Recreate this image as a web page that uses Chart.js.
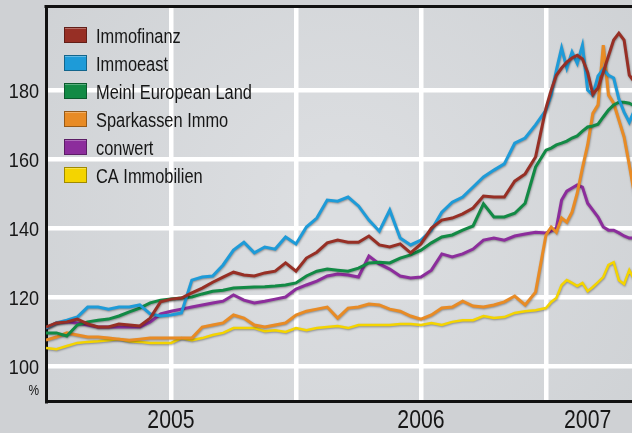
<!DOCTYPE html>
<html>
<head>
<meta charset="utf-8">
<script src="https://cdn.jsdelivr.net/npm/chart.js@4.4.1/dist/chart.umd.min.js"></script>
<style>
  body { margin: 0; background: #cfd1d4; }
  #wrap { width: 632px; height: 433px; position: relative; }
</style>
</head>
<body>
<div id="wrap"><canvas id="immoChart"></canvas></div>
<script>
// months since Jan 2005
const months = [0, 0.5, 1, 1.5, 2, 2.5, 3, 3.5, 4, 4.5, 5, 5.5, 6, 6.5, 7, 7.5, 8, 8.5, 9, 9.5,
    10, 10.5, 11, 11.5, 12, 12.5, 13, 13.5, 14, 14.5, 15, 15.5, 16, 16.5, 17, 17.5, 18, 18.5, 19, 19.5,
    20, 20.5, 21, 21.5, 22, 22.5, 23, 23.5, 24,
    24.25, 24.5, 24.75, 25, 25.25, 25.5, 25.75, 26, 26.25, 26.5, 26.75, 27, 27.25, 27.5, 27.75, 28, 28.25];

const immofinanz = [111.3, 112.5, 112.8, 113.6, 112.2, 111.3, 111.3, 112.2, 111.9, 111.6, 113.9, 118.6, 119.4, 119.7, 121.2, 122.6, 124.3, 125.8, 127.2, 126.4,
    126.1, 127.0, 127.5, 129.9, 127.5, 131.3, 133.0, 135.7, 136.5, 135.9, 135.9, 137.7, 135.1, 134.5, 135.4, 132.8, 135.4, 140.0, 142.3, 142.9,
    144.1, 145.8, 149.3, 149.0, 149.0, 153.6, 155.7, 160.6, 174.8,
    180.0, 184.3, 186.4, 188.1, 189.3, 190.1, 189.0, 185.2, 178.8, 180.6, 185.2, 189.9, 194.5, 196.5, 194.5, 184.3, 182.3];

const immoeast = [111.0, 112.5, 113.3, 114.2, 117.1, 117.1, 116.5, 117.1, 117.1, 117.7, 115.1, 114.5, 114.8, 115.4, 124.9, 125.8, 126.1, 129.3, 133.6, 135.9,
    132.8, 134.5, 133.9, 137.4, 135.4, 140.3, 142.9, 148.1, 147.8, 149.0, 146.4, 142.3, 139.1, 145.2, 137.1, 135.1, 136.5, 139.4, 144.6, 147.5,
    149.0, 151.9, 154.8, 156.8, 158.6, 164.6, 166.1, 169.9, 174.2,
    178.6, 185.8, 192.2, 186.4, 191.0, 187.8, 193.0, 180.0, 178.6, 184.1, 186.1, 184.3, 183.5, 177.4, 173.6, 170.7, 174.2];

const meinl = [109.6, 109.6, 108.7, 111.9, 112.8, 113.3, 113.6, 114.5, 115.7, 116.8, 118.3, 119.1, 119.4, 119.7, 120.0, 120.9, 121.7, 122.0, 122.6, 122.8,
    122.9, 123.0, 123.2, 123.5, 124.1, 126.1, 127.5, 128.1, 127.8, 127.5, 128.4, 129.9, 130.1, 129.9, 131.3, 132.2, 133.6, 135.7, 137.4, 138.0,
    139.4, 140.6, 147.0, 143.2, 143.2, 144.3, 147.2, 157.7, 162.6,
    163.2, 164.1, 164.6, 165.2, 166.1, 166.7, 168.1, 169.3, 169.6, 170.1, 172.2, 174.2, 175.7, 176.5, 176.5, 176.2, 175.4];

const sparkassen = [107.5, 108.4, 109.6, 109.0, 108.4, 108.4, 108.1, 107.8, 107.5, 107.8, 108.1, 108.1, 108.1, 108.1, 108.1, 111.3, 111.9, 112.5, 114.8, 113.9,
    111.9, 111.3, 111.9, 112.5, 114.8, 115.9, 116.5, 117.1, 113.9, 116.8, 117.1, 118.0, 117.7, 116.5, 115.9, 114.5, 113.6, 114.8, 116.8, 117.1,
    118.8, 117.4, 117.1, 117.7, 118.6, 120.3, 117.7, 121.4, 138.0,
    140.3, 138.8, 142.9, 141.7, 144.6, 150.1, 157.4, 164.1, 173.3, 175.7, 193.0, 178.6, 176.2, 171.3, 166.4, 158.3, 149.6];

const conwert = [111.0, 112.5, 112.8, 112.5, 111.9, 111.3, 111.3, 111.3, 111.3, 111.3, 112.8, 115.1, 115.9, 116.5, 117.1, 117.7, 118.3, 118.8, 120.6, 119.1,
    118.3, 118.8, 119.4, 120.0, 122.3, 123.5, 124.6, 126.1, 126.7, 126.4, 125.8, 131.9, 129.6, 128.1, 126.1, 125.5, 125.8, 127.8, 132.5, 131.6,
    132.5, 133.9, 136.5, 137.1, 136.5, 137.7, 138.3, 138.8, 138.6,
    139.1, 140.0, 148.1, 150.7, 151.6, 152.5, 151.9, 147.2, 145.2, 143.2, 140.3, 139.4, 139.4, 138.6, 137.7, 137.1, 137.1];

const caImmo = [105.2, 104.9, 105.8, 106.7, 107.0, 107.2, 107.5, 107.8, 107.2, 107.0, 106.7, 106.7, 106.7, 108.1, 107.5, 108.1, 109.0, 109.6, 111.0, 111.0,
    111.0, 110.1, 110.4, 109.9, 111.0, 110.4, 111.0, 111.3, 111.6, 111.0, 111.9, 111.9, 111.9, 111.9, 112.2, 112.2, 111.9, 112.5, 111.9, 112.8,
    113.3, 113.3, 114.5, 113.9, 114.2, 115.4, 115.9, 116.2, 116.8,
    118.6, 119.7, 123.5, 124.9, 124.1, 123.2, 124.1, 121.7, 122.9, 124.3, 125.8, 129.3, 130.1, 124.9, 123.8, 127.8, 124.9];

const seriesNames = ['Immofinanz', 'Immoeast', 'Meinl European Land', 'Sparkassen Immo', 'conwert', 'CA Immobilien'];
const seriesColors = ['#972f25', '#1e9bd8', '#128a45', '#e88b25', '#8c2d9c', '#f4d400'];
const seriesValues = [immofinanz, immoeast, meinl, sparkassen, conwert, caImmo];

// x ticks: half-year grid lines, year labels
const xTickValues = [6, 12, 18, 24, 26];
const xTickLabels = { 6: '2005', 18: '2006', 26: '2007' };
const yTickValues = [93, 100, 120, 140, 160, 180];

const FONT = "'Liberation Sans', Arial, sans-serif";

// draws condensed text (Helvetica Condensed look)
function narrowText(ctx, text, x, y, size, sx, align) {
    ctx.save();
    ctx.font = size + 'px ' + FONT;
    ctx.textAlign = align;
    ctx.textBaseline = 'alphabetic';
    ctx.translate(x, y);
    ctx.scale(sx, 1);
    ctx.fillText(text, 0, 0);
    ctx.restore();
}

const chartDecor = {
    id: 'chartDecor',
    beforeDraw(chart) {
        const { ctx, chartArea: a } = chart;
        ctx.save();
        ctx.fillStyle = '#cfd1d4';
        ctx.fillRect(0, 0, chart.width, chart.height);
        const g = ctx.createRadialGradient((a.left + a.right) / 2, (a.top + a.bottom) / 2, 30,
            (a.left + a.right) / 2, (a.top + a.bottom) / 2, 420);
        g.addColorStop(0, '#dcdee1');
        g.addColorStop(1, '#cdd0d3');
        ctx.fillStyle = g;
        ctx.fillRect(a.left, a.top, a.right - a.left, a.bottom - a.top);
        ctx.restore();
    },
    beforeDatasetsDraw(chart) {
        const { ctx, chartArea: a } = chart;
        ctx.save();
        ctx.strokeStyle = '#111';
        ctx.lineWidth = 3;
        ctx.beginPath();
        ctx.moveTo(a.left - 1.5, a.top - 1.5);
        ctx.lineTo(a.right, a.top - 1.5);
        ctx.stroke();
        ctx.restore();
    },
    beforeDatasetDraw(chart) {
        const ctx = chart.ctx;
        ctx.shadowColor = 'rgba(0,0,0,0.35)';
        ctx.shadowBlur = 2;
        ctx.shadowOffsetX = 0.5;
        ctx.shadowOffsetY = 1;
    },
    afterDatasetDraw(chart) {
        const ctx = chart.ctx;
        ctx.shadowColor = 'transparent';
        ctx.shadowBlur = 0;
        ctx.shadowOffsetX = 0;
        ctx.shadowOffsetY = 0;
    },
    afterDraw(chart) {
        const ctx = chart.ctx;
        ctx.save();
        ctx.fillStyle = '#161616';
        // y tick labels
        const ys = chart.scales.y;
        ys.ticks.forEach(t => {
            const py = ys.getPixelForValue(t.value);
            if (t.value === 93) narrowText(ctx, '%', 39, py + 5, 14, 0.85, 'right');
            else narrowText(ctx, String(t.value), 39, py + 7.5, 21, 0.86, 'right');
        });
        // year labels
        const xs = chart.scales.x;
        xs.ticks.forEach(t => {
            const lbl = xTickLabels[t.value];
            if (lbl) narrowText(ctx, lbl, xs.getPixelForValue(t.value), 427.5, 25, 0.85, 'center');
        });
        // legend inside plot, top left
        chart.data.datasets.forEach((ds, i) => {
            const y = 27 + i * 28;
            ctx.fillStyle = ds.borderColor;
            ctx.fillRect(64, y, 23, 16);
            ctx.strokeStyle = 'rgba(0,0,0,0.35)';
            ctx.lineWidth = 1;
            ctx.strokeRect(64.5, y + 0.5, 22, 15);
            ctx.strokeStyle = 'rgba(255,255,255,0.3)';
            ctx.beginPath();
            ctx.moveTo(65, y + 1.5);
            ctx.lineTo(86, y + 1.5);
            ctx.stroke();
            ctx.fillStyle = '#161616';
            narrowText(ctx, ds.label, 96, y + 15.7, 20, 0.82, 'left');
        });
        ctx.restore();
    }
};

const ctx = document.getElementById('immoChart').getContext('2d');
const immoChart = new Chart(ctx, {
    type: 'line',
    data: {
        datasets: seriesNames.map((name, i) => ({
            label: name,
            data: months.map((m, j) => ({ x: m, y: seriesValues[i][j] })),
            borderColor: seriesColors[i],
            borderWidth: i === 5 ? 2.5 : 3,
            pointRadius: 0,
            tension: 0,
            fill: false
        }))
    },
    options: {
        responsive: true,
        maintainAspectRatio: false,
        animation: false,
        layout: { padding: { top: 8, left: 0, right: 0, bottom: 0 } },
        plugins: {
            legend: { display: false },
            tooltip: { enabled: false }
        },
        scales: {
            x: {
                type: 'linear',
                min: 0,
                max: 28.13,
                afterBuildTicks: scale => {
                    scale.ticks = xTickValues.map(v => ({ value: v }));
                },
                afterFit: scale => { scale.height = 32; },
                grid: {
                    color: c => (c.tick && c.tick.value === 26) ? 'rgba(0,0,0,0)' : '#ffffff',
                    lineWidth: 4.5,
                    drawTicks: false
                },
                border: { display: true, color: '#111', width: 3 },
                ticks: { display: false }
            },
            y: {
                min: 89.86,
                max: 203.8,
                afterBuildTicks: scale => {
                    scale.ticks = yTickValues.map(v => ({ value: v }));
                },
                afterFit: scale => { scale.width = 46; },
                grid: {
                    color: c => (c.tick && c.tick.value === 93) ? 'rgba(0,0,0,0)' : '#ffffff',
                    lineWidth: 4.5,
                    drawTicks: false
                },
                border: { display: true, color: '#111', width: 3 },
                ticks: { display: false }
            }
        }
    },
    plugins: [chartDecor]
});
</script>
</body>
</html>
